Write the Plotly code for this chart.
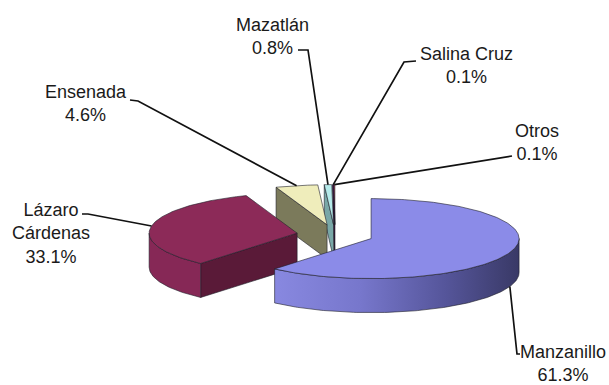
import numpy as np
import plotly.graph_objects as go

# Port shares of container traffic (%)
ports = ["Manzanillo", "Lázaro<br>Cárdenas", "Ensenada", "Mazatlán", "Salina Cruz", "Otros"]
shares = [61.3, 33.1, 4.6, 0.8, 0.1, 0.1]

# Face colours per slice: top, outer wall, cut (radial) wall
top_colors = ["#8b8be8", "#8c2a58", "#efedbb", "#b5eaea", "#660066", "#ff8080"]
wall_colors = ["#7272c4", "#862856", "#d8d6a4", "#8fc4c4", "#4a004a", "#c06060"]
cut_colors = ["#5a5aa0", "#5a1a38", "#7b7a5b", "#79a7a7", "#3a003a", "#a04848"]
manz_wall_scale = [[0, "#8888e0"], [0.35, "#7777cc"], [0.7, "#55559a"], [1, "#393966"]]

# Label placement (text centre) and leader elbows, page pixels
label_pos = [(563, 363), (51, 233), (86, 103), (272, 36), (466, 65), (537, 142)]
leader_elbows = [
    [(520, 354), (517, 354)],
    [(82, 214), (88, 214)],
    [(130, 100), (138, 101)],
    [(298, 50), (308, 50)],
    [(416, 61), (404, 62)],
    [(512, 156)],
]

W, H = 609, 385
CX, CY = 335, 235          # pie centre
RX, RY = 148, 40           # ellipse of the top face
DEPTH = 34                 # thickness of the pie
EXPLODE = 0.26             # radial offset of every slice

def rim(c, th):
    t = np.radians(th)
    return c[0] + RX * np.sin(t), c[1] - RY * np.cos(t)

def arc(c, a0, a1, dy=0.0, n=None):
    n = n or max(4, int(abs(a1 - a0)) + 2)
    th = np.linspace(a0, a1, n)
    t = np.radians(th)
    return list(c[0] + RX * np.sin(t)), list(c[1] - RY * np.cos(t) + dy)

total = sum(shares)
bounds = np.concatenate([[0], np.cumsum(shares) / total * 360.0])

slices = []
for i, v in enumerate(shares):
    a0, a1 = bounds[i], bounds[i + 1]
    mid = (a0 + a1) / 2
    m = np.radians(mid)
    c = (CX + EXPLODE * RX * np.sin(m), CY - EXPLODE * RY * np.cos(m))
    slices.append(dict(i=i, a0=a0, a1=a1, mid=mid, c=c))

fig = go.Figure()
edge = dict(color="rgba(30,30,40,0.75)", width=0.8)

def poly(xs, ys, color, **kw):
    fig.add_trace(go.Scatter(x=xs + [xs[0]], y=ys + [ys[0]], mode="lines", fill="toself",
                             fillcolor=color, line=edge, hoverinfo="skip", showlegend=False, **kw))

# Paint from back to front
for s in sorted(slices, key=lambda s: -np.cos(np.radians(s["mid"]))):
    i, a0, a1, c = s["i"], s["a0"], s["a1"], s["c"]
    # cut wall at the start angle
    if np.sin(np.radians(a0)) < -1e-6:
        px, py = rim(c, a0)
        poly([c[0], px, px, c[0]], [c[1], py, py + DEPTH, c[1] + DEPTH], cut_colors[i])
    # cut wall at the end angle
    if np.sin(np.radians(a1)) > 1e-6:
        px, py = rim(c, a1)
        poly([c[0], px, px, c[0]], [c[1], py, py + DEPTH, c[1] + DEPTH], cut_colors[i])
    # outer curved wall (front half only)
    lo, hi = max(a0, 90), min(a1, 270)
    if hi > lo:
        tx, ty = arc(c, lo, hi)
        bx, by = arc(c, hi, lo, dy=DEPTH)
        if i == 0:
            poly(tx + bx, ty + by, wall_colors[i],
                 fillgradient=dict(type="horizontal", colorscale=manz_wall_scale))
        else:
            poly(tx + bx, ty + by, wall_colors[i])
    # top face
    tx, ty = arc(c, a0, a1)
    poly([c[0]] + tx, [c[1]] + ty, top_colors[i])

# Leader lines and labels
for s in slices:
    i = s["i"]
    ax, ay = rim(s["c"], s["mid"])
    if np.cos(np.radians(s["mid"])) < 0:
        ay += DEPTH
    pts = list(leader_elbows[i]) + [(ax, ay)]
    fig.add_trace(go.Scatter(x=[p[0] for p in pts], y=[p[1] for p in pts], mode="lines",
                             line=dict(color="#111111", width=1.7),
                             hoverinfo="skip", showlegend=False))
    fig.add_annotation(x=label_pos[i][0], y=label_pos[i][1],
                       text=f"{ports[i]}<br>{shares[i]:.1f}%",
                       showarrow=False, xanchor="center", yanchor="middle", align="center",
                       font=dict(family="Liberation Sans, Arial, sans-serif", size=18, color="#1a1a1a"))

fig.update_layout(
    width=W, height=H, margin=dict(l=0, r=0, t=0, b=0),
    paper_bgcolor="white", plot_bgcolor="white", showlegend=False,
    xaxis=dict(range=[0, W], visible=False, fixedrange=True),
    yaxis=dict(range=[H, 0], visible=False, fixedrange=True),
)

fig.write_html("out.html")
